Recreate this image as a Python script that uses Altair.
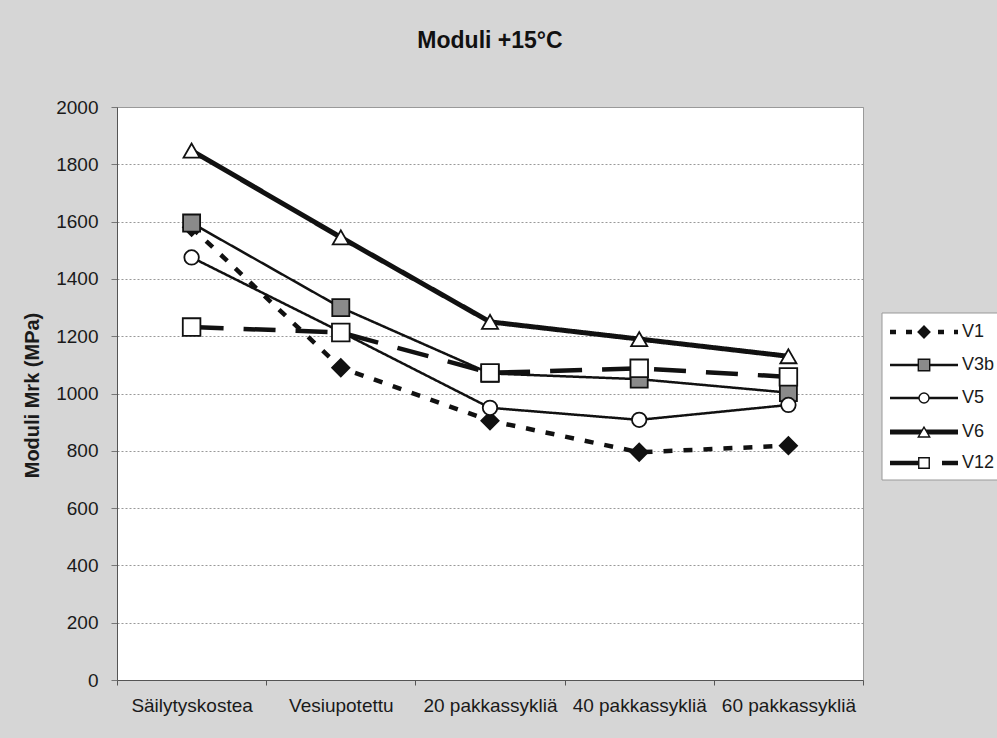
import altair as alt
import pandas as pd

categories = ["Säilytyskostea", "Vesiupotettu", "20 pakkassykliä", "40 pakkassykliä", "60 pakkassykliä"]
series = ["V1", "V3b", "V5", "V6", "V12"]
v1 = [1580, 1090, 905, 795, 818]
v3b = [1595, 1300, 1070, 1050, 1003]
v5 = [1475, 1215, 950, 908, 960]
v6 = [1848, 1545, 1250, 1190, 1130]
v12 = [1232, 1213, 1072, 1088, 1058]
values = [v1, v3b, v5, v6, v12]

rows = []
for s, vals in zip(series, values):
    for c, v in zip(categories, vals):
        rows.append({"series": s, "cat": c, "val": v})
df = pd.DataFrame(rows)

# per-series styles
dashes = {"V1": [9, 11], "V3b": [1, 0], "V5": [1, 0], "V6": [1, 0], "V12": [32, 20]}
widths = {"V1": 4.5, "V3b": 2.5, "V5": 2.5, "V6": 5, "V12": 4.5}
shapes = {"V1": "diamond", "V3b": "square", "V5": "circle", "V6": "triangle-up", "V12": "square"}
fills = {"V1": "#111111", "V3b": "#8a8a8a", "V5": "#ffffff", "V6": "#ffffff", "V12": "#ffffff"}
sizes = {"V1": 300, "V3b": 290, "V5": 210, "V6": 260, "V12": 310}
leg_sizes = {"V1": 140, "V3b": 130, "V5": 100, "V6": 130, "V12": 110}
leg_y = {"V1": 225, "V3b": 258, "V5": 291, "V6": 325, "V12": 356}

FONT = "Liberation Sans"

x_enc = alt.X(
    "cat:N", sort=categories,
    scale=alt.Scale(type="band", paddingInner=0, paddingOuter=0),
    bandPosition=0.5,
    axis=alt.Axis(title=None, labelAngle=0, tickBand="extent", tickSize=5,
                  labelPadding=11, labelFontSize=19, labelFont=FONT,
                  labelColor="#1a1a1a", domainColor="#555555", tickColor="#555555",
                  grid=False),
)
y_enc = alt.Y(
    "val:Q", scale=alt.Scale(domain=[0, 2000], nice=False),
    axis=alt.Axis(title="Moduli Mrk (MPa)", values=list(range(0, 2001, 200)),
                  format="d", tickSize=6, labelPadding=13, labelFontSize=19,
                  labelFont=FONT, labelColor="#1a1a1a", domainColor="#555555",
                  tickColor="#777777",
                  grid=True, gridColor="#999999", gridDash=[2, 2], gridWidth=1,
                  titleFont=FONT, titleFontSize=20, titleFontWeight="bold",
                  titleColor="#1a1a1a", titleX=-85, titleY=288, titleAngle=270,
                  titleAlign="center", titleBaseline="middle"),
)

layers = []
for s in series:
    d = df[df.series == s]
    layers.append(
        alt.Chart(d).mark_line(color="#111111", strokeWidth=widths[s],
                               strokeDash=dashes[s], strokeCap="butt")
        .encode(x=x_enc, y=y_enc)
    )
for s in series:
    d = df[df.series == s]
    layers.append(
        alt.Chart(d).mark_point(shape=shapes[s], filled=True, fill=fills[s],
                                stroke="#111111", strokeWidth=1.8, size=sizes[s],
                                opacity=1, fillOpacity=1)
        .encode(x=x_enc, y=y_enc)
    )

# legend box and entries
leg_df = pd.DataFrame({"series": series})
layers.append(
    alt.Chart(leg_df.head(1)).mark_rect(fill="#ffffff", stroke="#999999", strokeWidth=1)
    .encode(x=alt.value(765), x2=alt.value(890), y=alt.value(206), y2=alt.value(373))
)
for s in series:
    d = leg_df[leg_df.series == s]
    layers.append(
        alt.Chart(d).mark_rule(color="#111111", strokeWidth=widths[s],
                               strokeDash=dashes[s] if s != "V1" else [6, 10],
                               strokeCap="butt")
        .encode(x=alt.value(773), x2=alt.value(841), y=alt.value(leg_y[s]))
    )
    layers.append(
        alt.Chart(d).mark_point(shape=shapes[s], filled=True, fill=fills[s],
                                stroke="#111111", strokeWidth=1.4, size=leg_sizes[s],
                                opacity=1)
        .encode(x=alt.value(807), y=alt.value(leg_y[s]))
    )
    layers.append(
        alt.Chart(d).mark_text(align="left", baseline="middle", font=FONT,
                               fontSize=18, color="#1a1a1a")
        .encode(x=alt.value(845), y=alt.value(leg_y[s]), text="series:N")
    )

chart = (
    alt.layer(*layers)
    .properties(
        width=746, height=573,
        title=alt.TitleParams("Moduli +15°C", font=FONT, fontSize=23,
                              fontWeight="bold", color="#111111",
                              anchor="middle", offset=45),
        autosize=alt.AutoSizeParams(type="none"),
        padding={"left": 117, "top": 107, "right": 134, "bottom": 58},
        background="#d6d6d6",
    )
    .configure_view(fill="#ffffff", stroke="#9a9a9a", strokeWidth=1)
)

chart.save("out.html", embed_options={"renderer": "svg", "actions": False})
